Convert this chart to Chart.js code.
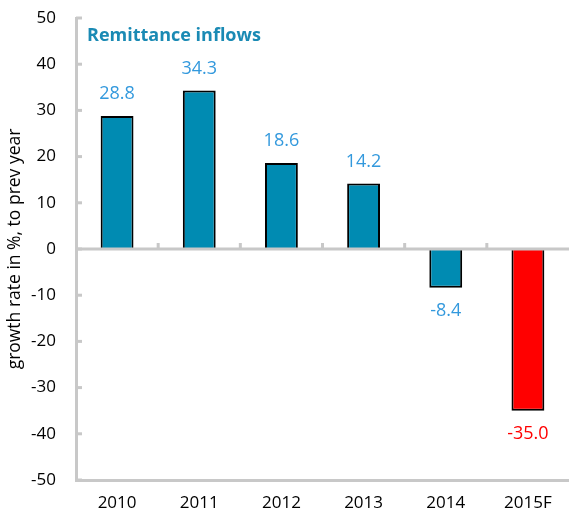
<!DOCTYPE html>
<html>
<head>
<meta charset="utf-8">
<script src="https://cdn.jsdelivr.net/npm/chart.js@4.4.1/dist/chart.umd.min.js"></script>
<style>
  html, body { margin: 0; padding: 0; background: #fff; }
  #wrap { width: 569px; height: 517px; position: relative; }
</style>
</head>
<body>
<div id="wrap"><canvas id="remitChart"></canvas></div>
<script>
const years = ["2010", "2011", "2012", "2013", "2014", "2015F"];
const growth = [28.8, 34.3, 18.6, 14.2, -8.4, -35.0];
const barColors = ["#008bb2", "#008bb2", "#008bb2", "#008bb2", "#008bb2", "#ff0000"];
const labelColors = ["#3399dd", "#3399dd", "#3399dd", "#3399dd", "#3399dd", "#ff0000"];

const AXIS_GRAY = "#c8c8c8";
const FONT = "'Open Sans', 'DejaVu Sans', sans-serif";

// zero line, inner tick marks, title and value labels
const decorations = {
    id: "decorations",
    afterDatasetsDraw(chart) {
        const { ctx, chartArea, scales: { x, y } } = chart;
        const zeroY = y.getPixelForValue(0);
        ctx.save();
        ctx.strokeStyle = AXIS_GRAY;
        ctx.lineWidth = 3;
        ctx.beginPath();
        ctx.moveTo(chartArea.left, zeroY);
        ctx.lineTo(chartArea.right, zeroY);
        ctx.stroke();

        // ticks on the left axis, pointing into the plot
        y.ticks.forEach(t => {
            const py = y.getPixelForValue(t.value);
            ctx.beginPath();
            ctx.moveTo(chartArea.left, py);
            ctx.lineTo(chartArea.left + 6, py);
            ctx.stroke();
        });

        // ticks on the zero line between categories
        for (let i = 1; i < years.length; i++) {
            const px = (x.getPixelForValue(i - 1) + x.getPixelForValue(i)) / 2;
            ctx.beginPath();
            ctx.moveTo(px, zeroY);
            ctx.lineTo(px, zeroY - 6);
            ctx.stroke();
        }

        // value labels
        ctx.font = "18px " + FONT;
        ctx.textAlign = "center";
        ctx.textBaseline = "middle";
        chart.getDatasetMeta(0).data.forEach((bar, i) => {
            const v = growth[i];
            ctx.fillStyle = labelColors[i];
            ctx.fillText(v.toFixed(1), bar.x, v >= 0 ? bar.y - 22 : bar.y + 23);
        });

        // panel title
        ctx.font = "bold 18px " + FONT;
        ctx.textAlign = "left";
        ctx.fillStyle = "#1a8ab4";
        ctx.fillText("Remittance inflows", chartArea.left + 11, 36);
        ctx.restore();
    }
};

new Chart(document.getElementById("remitChart"), {
    type: "bar",
    data: {
        labels: years,
        datasets: [{
            data: growth,
            backgroundColor: barColors,
            borderColor: "#000",
            borderWidth: 2,
            barPercentage: 0.8,
            categoryPercentage: 0.5
        }]
    },
    options: {
        responsive: true,
        maintainAspectRatio: false,
        animation: false,
        layout: { padding: { top: 18, right: 0, left: 0, bottom: 0 } },
        plugins: { legend: { display: false }, tooltip: { enabled: false } },
        scales: {
            x: {
                grid: { display: false, drawTicks: false },
                border: { display: true, color: AXIS_GRAY, width: 3 },
                ticks: { color: "#000", font: { family: FONT, size: 17 }, padding: 13 },
                afterFit: s => { s.height = 37; s.paddingLeft = 0; s.paddingRight = 0; }
            },
            y: {
                min: -50,
                max: 50,
                grid: { display: false, drawTicks: false },
                border: { display: true, color: AXIS_GRAY, width: 3 },
                ticks: { stepSize: 10, color: "#000", font: { family: FONT, size: 17 }, padding: 20 },
                title: {
                    display: true,
                    text: "growth rate in %, to prev year",
                    color: "#000",
                    font: { family: FONT, size: 17.5 },
                    padding: { top: 5, bottom: 0 }
                },
                afterFit: s => { s.width = 76; s.paddingTop = 0; s.paddingBottom = 0; }
            }
        }
    },
    plugins: [decorations]
});
</script>
</body>
</html>
